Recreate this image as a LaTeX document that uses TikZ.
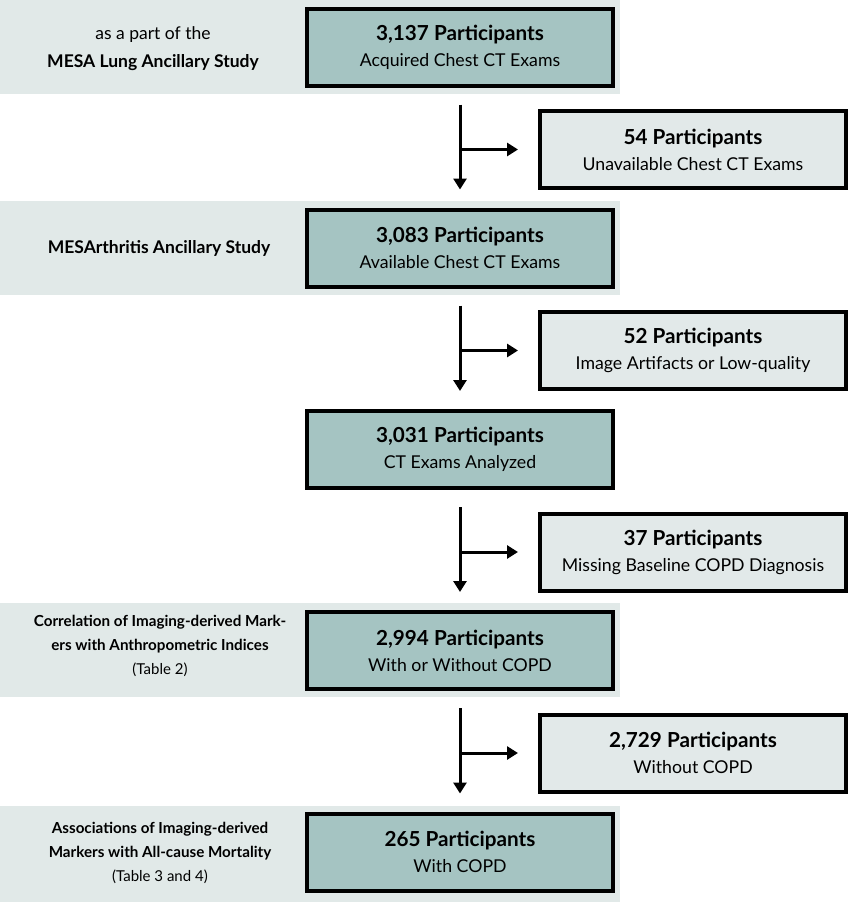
\documentclass[tikz,border=0pt]{standalone}
\usepackage{fontspec}
\setmainfont{Lato}
\usetikzlibrary{arrows.meta}
\definecolor{bandcol}{HTML}{E1E9E8}
\definecolor{maincol}{HTML}{A5C4C2}
\definecolor{sidecol}{HTML}{E2E9E9}
\tikzset{
  mainbox/.style={draw=black, line width=4pt, fill=maincol, minimum width=306pt, minimum height=77pt, align=center, inner sep=0pt, font=\fontsize{17.7}{26}\selectfont},
  sidebox/.style={mainbox, fill=sidecol},
  leftlabel/.style={align=center, inner sep=0pt},
  arr/.style={line width=3pt, -{Triangle[width=13pt,length=11pt]}},
}
\newcommand{\boxtext}[2]{{\fontsize{20.7}{26}\selectfont\bfseries #1}\\{#2}}
\begin{document}
\begin{tikzpicture}[x=1pt,y=-1pt]
\useasboundingbox (0,0) rectangle (850,902);
% bands
\fill[bandcol] (0,0) rectangle (620,94);
\fill[bandcol] (0,201) rectangle (620,295);
\fill[bandcol] (0,603) rectangle (620,697);
\fill[bandcol] (0,806) rectangle (620,902);
% main boxes
\node[mainbox] (m1) at (460,47) {\boxtext{3,137 Participants}{Acquired Chest CT Exams}};
\node[mainbox] (m2) at (460,248) {\boxtext{3,083 Participants}{Available Chest CT Exams}};
\node[mainbox] (m3) at (460,449.5) {\boxtext{3,031 Participants}{CT Exams Analyzed}};
\node[mainbox] (m4) at (460,650.5) {\boxtext{2,994 Participants}{With or Without COPD}};
\node[mainbox] (m5) at (460,852) {\boxtext{265 Participants}{With COPD}};
% side boxes
\node[sidebox] (s1) at (693,149.5) {\boxtext{54 Participants}{Unavailable Chest CT Exams}};
\node[sidebox] (s2) at (693,350.5) {\boxtext{52 Participants}{Image Artifacts or Low-quality}};
\node[sidebox] (s3) at (693,552) {\boxtext{37 Participants}{Missing Baseline COPD Diagnosis}};
\node[sidebox] (s4) at (693,753) {\boxtext{2,729 Participants}{Without COPD}};
% left labels
\node[leftlabel, font=\fontsize{17.5}{28}\selectfont] (l1) at (153,49) {as a part of the\\\textbf{MESA Lung Ancillary Study}};
\node[leftlabel, font=\fontsize{17.5}{28}\selectfont\bfseries] (l2) at (159,248) {MESArthritis Ancillary Study};
\node[leftlabel, font=\fontsize{15.2}{24}\selectfont] (l4) at (160,646) {\textbf{Correlation of Imaging-derived Mark-}\\\textbf{ers with Anthropometric Indices}\\{\fontsize{15}{24}\selectfont (Table 2)}};
\node[leftlabel, font=\fontsize{15.2}{24}\selectfont] (l5) at (160,853) {\textbf{Associations of Imaging-derived}\\\textbf{Markers with All-cause Mortality}\\{\fontsize{15}{24}\selectfont (Table 3 and 4)}};
% arrows
\foreach \a/\b/\s in {m1/m2/s1, m2/m3/s2, m3/m4/s3, m4/m5/s4}{
  \draw[arr, shorten <=17pt, shorten >=18pt] (\a.south) -- (\b.north);
  \draw[arr, shorten >=20pt] (\s.west -| \a.south) -- (\s.west);
}
\end{tikzpicture}
\end{document}
